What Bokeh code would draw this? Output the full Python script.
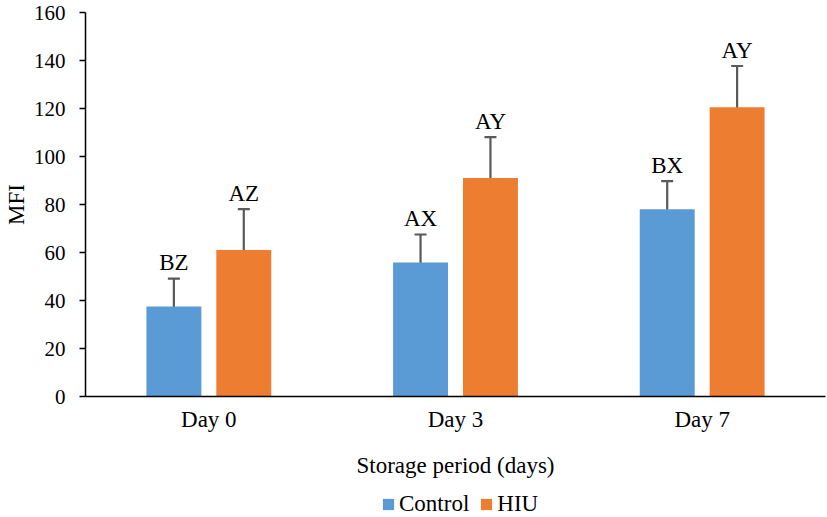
from bokeh.plotting import figure
from bokeh.layouts import column
from bokeh.models import (ColumnDataSource, FactorRange, Range1d, FixedTicker, Whisker, TeeHead,
                          Legend, LegendItem)
from bokeh.transform import dodge
from bokeh.core.properties import value
from bokeh.embed import file_html
from bokeh.resources import INLINE

# ---- data ----
days = ["Day 0", "Day 3", "Day 7"]
control = [37.5, 55.8, 78.0]
hiu = [61.0, 91.0, 120.5]
control_sd = [11.6, 11.7, 11.7]
hiu_sd = [17.1, 17.1, 17.2]
control_letters = ["BZ", "AX", "BX"]
hiu_letters = ["AZ", "AY", "AY"]
series_names = ["Control", "HIU"]
y_ticks = [0, 20, 40, 60, 80, 100, 120, 140, 160]

FONT = "Liberation Serif"
BLUE = "#5B9BD5"
ORANGE = "#ED7D31"
ERR = "#595959"

src = ColumnDataSource(dict(
    day=days,
    control=control,
    hiu=hiu,
    c_up=[m + s for m, s in zip(control, control_sd)],
    c_lo=[m - s for m, s in zip(control, control_sd)],
    h_up=[m + s for m, s in zip(hiu, hiu_sd)],
    h_lo=[m - s for m, s in zip(hiu, hiu_sd)],
    c_lab=control_letters,
    h_lab=hiu_letters,
))

p = figure(x_range=FactorRange(*days, range_padding=0), y_range=Range1d(0, 160),
           width=827, height=480, output_backend="svg", toolbar_location=None,
           min_border_left=84, min_border_right=2, min_border_top=12, min_border_bottom=0)
p.outline_line_color = None
p.grid.grid_line_color = None
p.background_fill_color = "white"
p.border_fill_color = "white"

off = 0.1417
bw = 0.2227
r1 = p.vbar(x=dodge("day", -off, range=p.x_range), top="control", width=bw, source=src,
            fill_color=BLUE, line_color=None)
r2 = p.vbar(x=dodge("day", off, range=p.x_range), top="hiu", width=bw, source=src,
            fill_color=ORANGE, line_color=None)

for field_up, field_lo, sign in (("c_up", "c_lo", -1), ("h_up", "h_lo", 1)):
    w = Whisker(base=dodge("day", sign * off, range=p.x_range), upper=field_up, lower=field_lo,
                source=src, line_color=ERR, line_width=2.2,
                upper_head=TeeHead(size=12, line_color=ERR, line_width=2.2),
                lower_head=TeeHead(size=12, line_color=ERR, line_width=2.2))
    p.add_layout(w)

p.text(x=dodge("day", -off, range=p.x_range), y="c_up", text="c_lab", source=src,
       text_font=value(FONT), text_font_size="23px", text_align="center",
       text_baseline="alphabetic", y_offset=-16, text_color="black")
p.text(x=dodge("day", off, range=p.x_range), y="h_up", text="h_lab", source=src,
       text_font=value(FONT), text_font_size="23px", text_align="center",
       text_baseline="alphabetic", y_offset=-16, text_color="black")

# y axis
ya = p.yaxis[0]
ya.ticker = FixedTicker(ticks=y_ticks)
ya.minor_tick_line_color = None
ya.major_tick_out = 6
ya.major_tick_in = 0
ya.major_tick_line_width = 1.5
ya.major_tick_line_color = "black"
ya.axis_line_color = "black"
ya.axis_line_width = 1.5
ya.major_label_text_font = FONT
ya.major_label_text_font_size = "21px"
ya.major_label_text_color = "black"
ya.major_label_standoff = 14
ya.axis_label = "MFI"
ya.axis_label_text_font = FONT
ya.axis_label_text_font_size = "23px"
ya.axis_label_text_font_style = "normal"
ya.axis_label_text_color = "black"
ya.axis_label_standoff = 2

# x axis
xa = p.xaxis[0]
xa.major_tick_line_color = None
xa.major_tick_out = 0
xa.major_tick_in = 0
xa.axis_line_color = "black"
xa.axis_line_width = 1.5
xa.major_label_text_font = FONT
xa.major_label_text_font_size = "23px"
xa.major_label_text_color = "black"
xa.major_label_standoff = 10
xa.axis_label = "Storage period (days)"
xa.axis_label_text_font = FONT
xa.axis_label_text_font_size = "23px"
xa.axis_label_text_font_style = "normal"
xa.axis_label_text_color = "black"
xa.axis_label_standoff = 18

# legend in its own strip below the chart (its bars lie far below the visible y range)
pl = figure(width=827, height=37, output_backend="svg", toolbar_location=None,
            x_range=FactorRange(*days), y_range=Range1d(1000, 1001),
            min_border=0, outline_line_color=None)
pl.axis.visible = False
pl.grid.grid_line_color = None
l1 = pl.vbar(x="day", top="control", width=0.01, source=src, fill_color=BLUE, line_color=None)
l2 = pl.vbar(x="day", top="hiu", width=0.01, source=src, fill_color=ORANGE, line_color=None)
legend = Legend(items=[LegendItem(label=series_names[0], renderers=[l1]),
                       LegendItem(label=series_names[1], renderers=[l2])],
                orientation="horizontal", location=(296, 0),
                glyph_width=14, glyph_height=14, label_standoff=4, spacing=10,
                padding=0, margin=0, border_line_color=None, background_fill_alpha=0,
                label_text_font=FONT, label_text_font_size="23px", label_text_color="black")
pl.add_layout(legend)

layout = column(p, pl, spacing=0)
open("out.html", "w").write(file_html(layout, INLINE))
